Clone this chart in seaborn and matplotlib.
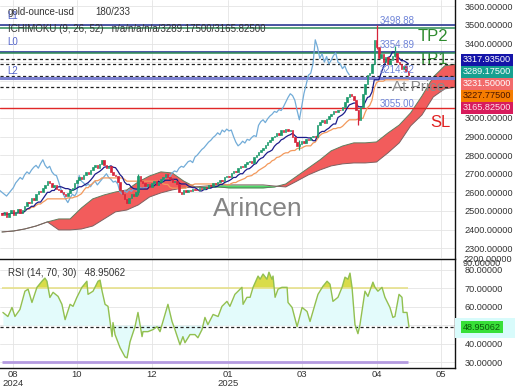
import matplotlib
matplotlib.use("Agg")
import matplotlib.pyplot as plt
import numpy as np
import pandas as pd
import seaborn as sns

# daily closes (bar 0 = start of Aug 2024)
close = [
    2480, 2495, 2470, 2490, 2505, 2480, 2495, 2510, 2490, 2505,
    2525, 2550, 2540, 2570, 2560, 2590, 2605, 2600, 2625, 2640,
    2660, 2650, 2630, 2640, 2620, 2610, 2600, 2590, 2580, 2595,
    2610, 2625, 2650, 2665, 2680, 2670, 2695, 2710, 2700, 2720,
    2735, 2745, 2730, 2755, 2775, 2745, 2730, 2740, 2710, 2695,
    2690, 2655, 2615, 2590, 2565, 2545, 2570, 2590, 2580, 2600,
    2690, 2660, 2650, 2635, 2645, 2630, 2650, 2660, 2640, 2655,
    2670, 2685, 2700, 2680, 2670, 2655, 2660, 2645, 2600, 2590,
    2610, 2600, 2615, 2605, 2620, 2615, 2610, 2625, 2620, 2630,
    2625, 2640, 2635, 2650, 2645, 2655, 2665, 2660, 2680, 2690,
    2685, 2705, 2715, 2710, 2730, 2740, 2735, 2750, 2765, 2770,
    2760, 2790, 2800, 2815, 2830, 2840, 2855, 2870, 2880, 2895,
    2905, 2920, 2910, 2935, 2925, 2940, 2930, 2935, 2900, 2870,
    2850, 2860, 2875, 2865, 2885, 2880, 2895, 2905, 2900, 2960,
    2980, 2990, 2975, 2995, 3010, 3020, 3035, 3030, 3045, 3040,
    3060, 3085, 3110, 3130, 3120, 3095, 3040, 2990, 3060, 3130,
    3180, 3230, 3240, 3290, 3420, 3380, 3320, 3345, 3300, 3330,
    3290, 3310, 3335, 3350, 3300, 3290, 3265, 3280, 3250, 3231.5,
]
first_open = 2490

# the few wicks that stand out
wick_bar = [60, 131, 157, 165, 173]
wick_hi = [2700, 2880, 3045, 3500, 3385]
wick_lo = [2585, 2830, 2960, 3370, 3330]

# kumo (already shifted forward), one value every 5 bars
kumo_bar = list(range(0, 205, 5))
span_a = [2387, 2392, 2403, 2419, 2441, 2457, 2457, 2516, 2565, 2586,
          2602, 2613, 2656, 2688, 2710, 2704, 2661, 2629, 2624, 2629,
          2624, 2624, 2624, 2624, 2629, 2645, 2688, 2731, 2774, 2823,
          2849, 2866, 2866, 2871, 2919, 2962, 3027, 3118, 3220, 3280,
          3289.175]
span_b = [2387, 2392, 2403, 2419, 2441, 2398, 2398, 2403, 2419, 2457,
          2495, 2505, 2532, 2575, 2597, 2613, 2624, 2629, 2634, 2640,
          2640, 2640, 2640, 2640, 2634, 2629, 2661, 2694, 2720, 2742,
          2753, 2758, 2758, 2763, 2812, 2866, 2957, 3016, 3113, 3156,
          3165.825]

# RSI (14)
rsi_x = [0.4, 2.6, 4.4, 5.7, 7.9, 10.1, 11.5, 13.2, 15.4, 17.6, 18.9, 19.8,
         21.1, 22.5, 24.7, 26.4, 27.8, 30, 31.3, 33, 35.2, 37.4, 37.9, 40.1,
         42.3, 43.2, 44.1, 45.4, 46.7, 48.5, 48.9, 49.8, 52, 54.2, 55.1, 56.4,
         58.6, 59.9, 61.7, 62.1, 64.3, 66.5, 68.3, 69.6, 70.9, 73.1, 74.9, 76.2,
         78.4, 79.7, 80.6, 82.8, 85, 86.3, 88.1, 89.4, 90.7, 93, 95.2, 96.9,
         99.1, 100.4, 102.6, 104, 105.7, 106.2, 107.9, 109.3, 110.6, 112.8, 113.7, 115,
         116.7, 117.6, 118.9, 119.4, 120.3, 121.6, 123.3, 125.6, 126, 127.8, 130, 132.2,
         134.4, 135.7, 137.9, 139.2, 141.4, 143.2, 144.5, 145.8, 148, 149.8, 151.1, 152.4,
         153.3, 154.2, 155.5, 156.8, 157.7, 159.9, 161.2, 163.4, 164.3, 165.6, 167.4, 168.7,
         170.9, 172.2, 173.1, 174.9, 176.2, 176.7, 178.4, 179.3]
rsi_val = [56.9, 54.7, 59.6, 54.7, 58.5, 68.4, 69.5, 62.3, 70.5, 73.8, 75.5, 73.8,
           65, 67.8, 65.6, 61.3, 53, 61.3, 60.2, 65.1, 70.5, 73.8, 66.7, 68.4,
           73.8, 74.4, 68.4, 61.3, 60.2, 43.8, 51.4, 44.9, 37.8, 32.8, 32.3, 41,
           49.2, 56.9, 43.8, 46.5, 46.5, 47.6, 49.2, 46.5, 52, 61.3, 52, 47.6,
           39.4, 43.8, 40.5, 44.9, 44.9, 43.2, 47.6, 54.2, 50.3, 55.8, 54.7, 60.2,
           62.9, 60.2, 66.7, 68.4, 70.5, 61.3, 65.1, 65.1, 70.5, 76.6, 74.9, 77.7,
           74.9, 78.7, 74.9, 76.6, 65.1, 69.5, 70.5, 70.5, 62.3, 59.6, 49.2, 59.6,
           57.4, 52, 61.3, 66.7, 71.1, 73.8, 72.2, 62.9, 65.1, 70.5, 76, 74.9,
           78.2, 70.5, 50.3, 45.4, 50.3, 68.4, 65.6, 73.3, 70.5, 68.4, 70.5, 65.1,
           59.6, 54.2, 54.7, 66.7, 65.1, 56.9, 56.9, 48.95062]

# horizontal levels
lvl_blue = [3498.88, 3354.89]
lvl_green = [3482, 3348]
lvl_dash = [3317.935, 3289.175, 3227.775, 3165.825]
lvl_l2 = 3214.32
lvl_sl = 3055.00

tick_pos = [4.85, 33, 66.1, 99.6, 132.2, 165.2, 193.4]
tick_lab = ["08\n2024", "10", "12", "01\n2025", "03", "04", "05"]

sns.set_theme(style="white")
plt.rcParams["font.family"] = ["Liberation Sans", "DejaVu Sans"]

W, H = 520, 390
fig = plt.figure(figsize=(W / 100, H / 100), dpi=100)


def box(x0, y0, x1, y1):
    return [x0 / W, 1 - y1 / H, (x1 - x0) / W, (y1 - y0) / H]


def fy(y):
    return 1 - y / H


ax = fig.add_axes(box(0, 0, 455, 258))
ax2 = fig.add_axes(box(0, 259, 455, 368))

green, red = "#1d9a6c", "#d6243a"
close = np.array(close, dtype=float)
idx = np.arange(len(close))
opens = np.r_[first_open, close[:-1]]
up = close >= opens
cols = np.where(up, green, red)

df = pd.DataFrame({"bar": idx, "open": opens, "close": close})
hi = df[["open", "close"]].max(axis=1)
lo = df[["open", "close"]].min(axis=1)
df["tenkan"] = (hi.rolling(9, min_periods=1).max() + lo.rolling(9, min_periods=1).min()) / 2
df["kijun"] = (hi.rolling(26, min_periods=1).max() + lo.rolling(26, min_periods=1).min()) / 2
df["chikou_bar"] = df["bar"] - 26

kumo = pd.DataFrame({"bar": kumo_bar, "a": span_a, "b": span_b})

# cloud
ka, kb = kumo["a"].values, kumo["b"].values
ax.fill_between(kumo["bar"], ka, kb, where=ka >= kb, interpolate=True,
                color="#f25c5c", lw=0, zorder=1)
ax.fill_between(kumo["bar"], ka, kb, where=ka < kb, interpolate=True,
                color="#4fdc6a", lw=0, zorder=1)
sns.lineplot(data=kumo, x="bar", y="a", ax=ax, color="#5f7f5f", lw=0.7, zorder=2)
sns.lineplot(data=kumo, x="bar", y="b", ax=ax, color="#7f6060", lw=0.7, zorder=2)

# levels
for v in lvl_blue:
    ax.axhline(v, color="#1c2a8c", lw=1.1, zorder=3)
for v in lvl_green:
    ax.axhline(v, color="#2e8b57", lw=1.1, zorder=3)
for v in lvl_dash:
    ax.axhline(v, color="#222222", lw=0.9, ls=(0, (2.5, 2)), zorder=3)
ax.axhline(lvl_l2, color="#7b80d0", lw=2.2, zorder=3)
ax.axhline(lvl_sl, color="#e02828", lw=1.0, zorder=3)

# chikou, kijun, tenkan
sns.lineplot(data=df, x="chikou_bar", y="close", ax=ax, color="#72acd8", lw=0.9, zorder=4)
sns.lineplot(data=df, x="bar", y="kijun", ax=ax, color="#f3995c", lw=0.9, zorder=4)
sns.lineplot(data=df, x="bar", y="tenkan", ax=ax, color="#1c1c8a", lw=0.9, zorder=5)

# candles
ax.vlines(wick_bar, wick_lo, wick_hi,
          colors=[cols[b] for b in wick_bar], lw=0.9, zorder=6)
ax.bar(idx, close - opens, bottom=opens, width=0.65, color=cols,
       edgecolor=cols, linewidth=0.5, zorder=6)

ax.set_xlim(-0.88, 199.56)
ax.set_ylim(2247, 3634)
ax.set_xlabel("")
ax.set_ylabel("")
ax.yaxis.tick_right()
yt = np.arange(2300, 3601, 100)
ax.set_yticks(yt)
# 3100-3300 sit under the value tags
ax.set_yticklabels(["" if 3050 < v < 3350 else f"{v:.5f}" for v in yt])
ax.set_xticks(tick_pos)
ax.set_xticklabels([])
ax.tick_params(axis="y", length=0, pad=7, labelsize=6.6, labelcolor="#333333")
ax.tick_params(axis="x", length=0)
ax.grid(True, color="#e4e4e4", lw=0.6)
ax.set_axisbelow(True)
for s in ["top", "left", "bottom"]:
    ax.spines[s].set_visible(False)
ax.spines["right"].set_color("#111111")
ax.spines["right"].set_linewidth(1)

# texts on the price panel
ax.text(93, 2475, "Arincen", fontsize=19, color="#777777", alpha=0.9, zorder=7,
        va="baseline")
ax.text(183.3, 3440, "TP2", fontsize=12, color="#2e8b2e", va="center", zorder=2)
ax.text(183.3, 3312, "TP1", fontsize=12, color="#2e8b2e", va="center", zorder=2)
ax.text(172, 3168, "At Price", fontsize=11, color="#8a8a8a", va="center", zorder=7)
ax.text(188.5, 2978, "SL", fontsize=12, color="#e02020", va="center", zorder=7)
for v, y in zip(["3498.88", "3354.89", "3214.32", "3055.00"], [3519, 3390, 3255, 3074]):
    ax.text(166.5, y, v, fontsize=7, color="#6f84d8", va="center", zorder=7)

# RSI panel
rsi = pd.DataFrame({"bar": rsi_x, "rsi": rsi_val})
rv = rsi["rsi"].values
ax2.fill_between(rsi["bar"], rv, 50, color="#e3fbfb", lw=0, zorder=1)
ax2.fill_between(rsi["bar"], rv, 70, where=rv > 70, interpolate=True,
                 color="#d9dc4a", lw=0, zorder=2)
ax2.hlines(70, 0, len(close) - 1, color="#e6e08a", lw=1.2, zorder=2)
ax2.hlines(30, 0, len(close) - 1, color="#b49be0", lw=2, zorder=2)
ax2.axhline(48.95062, color="#222222", lw=0.9, ls=(0, (2.5, 2)), zorder=3)
sns.lineplot(data=rsi, x="bar", y="rsi", ax=ax2, color="#92c050", lw=1.0, zorder=4)

ax2.set_xlim(-0.88, 199.56)
ax2.set_ylim(26.8, 85.85)
ax2.set_xlabel("")
ax2.set_ylabel("")
ax2.yaxis.tick_right()
rt = [30, 40, 50, 60, 70, 80]
ax2.set_yticks(rt)
ax2.set_yticklabels(["" if v == 50 else f"{v:.5f}" for v in rt])
ax2.set_xticks(tick_pos)
ax2.set_xticklabels(tick_lab, linespacing=1.0)
ax2.tick_params(axis="y", length=0, pad=7, labelsize=6.6, labelcolor="#333333")
ax2.tick_params(axis="x", length=0, pad=1.5, labelsize=6.8, labelcolor="#333333")
ax2.grid(True, color="#e4e4e4", lw=0.6)
ax2.set_axisbelow(True)
ax2.spines["left"].set_visible(False)
for s in ["top", "right", "bottom"]:
    ax2.spines[s].set_color("#111111")
    ax2.spines[s].set_linewidth(1)

# headers
fig.text(8 / W, fy(12), "gold-ounce-usd", fontsize=7, color="#333333", va="center")
fig.text(95 / W, fy(12), "180/233", fontsize=7, color="#333333", va="center")
fig.text(8 / W, fy(29), "ICHIMOKU (9, 26, 52)   n/a/n/a/n/a/3289.17500/3165.82500",
         fontsize=7, color="#333333", va="center")
for t, y in [("L1", 16), ("L0", 42), ("L2", 71)]:
    fig.text(7 / W, fy(y), t, fontsize=7, color="#5566cc", va="center")
fig.text(8 / W, fy(273), "RSI (14, 70, 30)   48.95062", fontsize=7, color="#333333",
         va="center")

# value tags on the right
tags = [("3317.93500", "#1414a8", "white", 60),
        ("3289.17500", "#17a090", "white", 72),
        ("3231.50000", "#f26b6b", "white", 84),
        ("3227.77500", "#f57c00", "#4a1500", 96),
        ("3165.82500", "#d81b5c", "#ffe0ea", 108)]
for t, fc, tc, y in tags:
    fig.text(463 / W, fy(y), t, fontsize=6.6, color=tc, va="center",
             bbox=dict(boxstyle="square,pad=0.18", fc=fc, ec="none"))
fig.patches.append(plt.Rectangle((455 / W, fy(338)), 60 / W, 20 / H,
                                 transform=fig.transFigure, fc="#d8fbfb", ec="none"))
fig.text(463 / W, fy(327), "48.95062", fontsize=6.6, color="#0a5a0a", va="center",
         bbox=dict(boxstyle="square,pad=0.18", fc="#38e038", ec="none"))
fig.text(463 / W, fy(259), "2200.00000", fontsize=6.6, color="#333333", va="center")
fig.text(463 / W, fy(263), "90.00000", fontsize=6.6, color="#333333", va="center")

fig.savefig("out.png", dpi=100)
